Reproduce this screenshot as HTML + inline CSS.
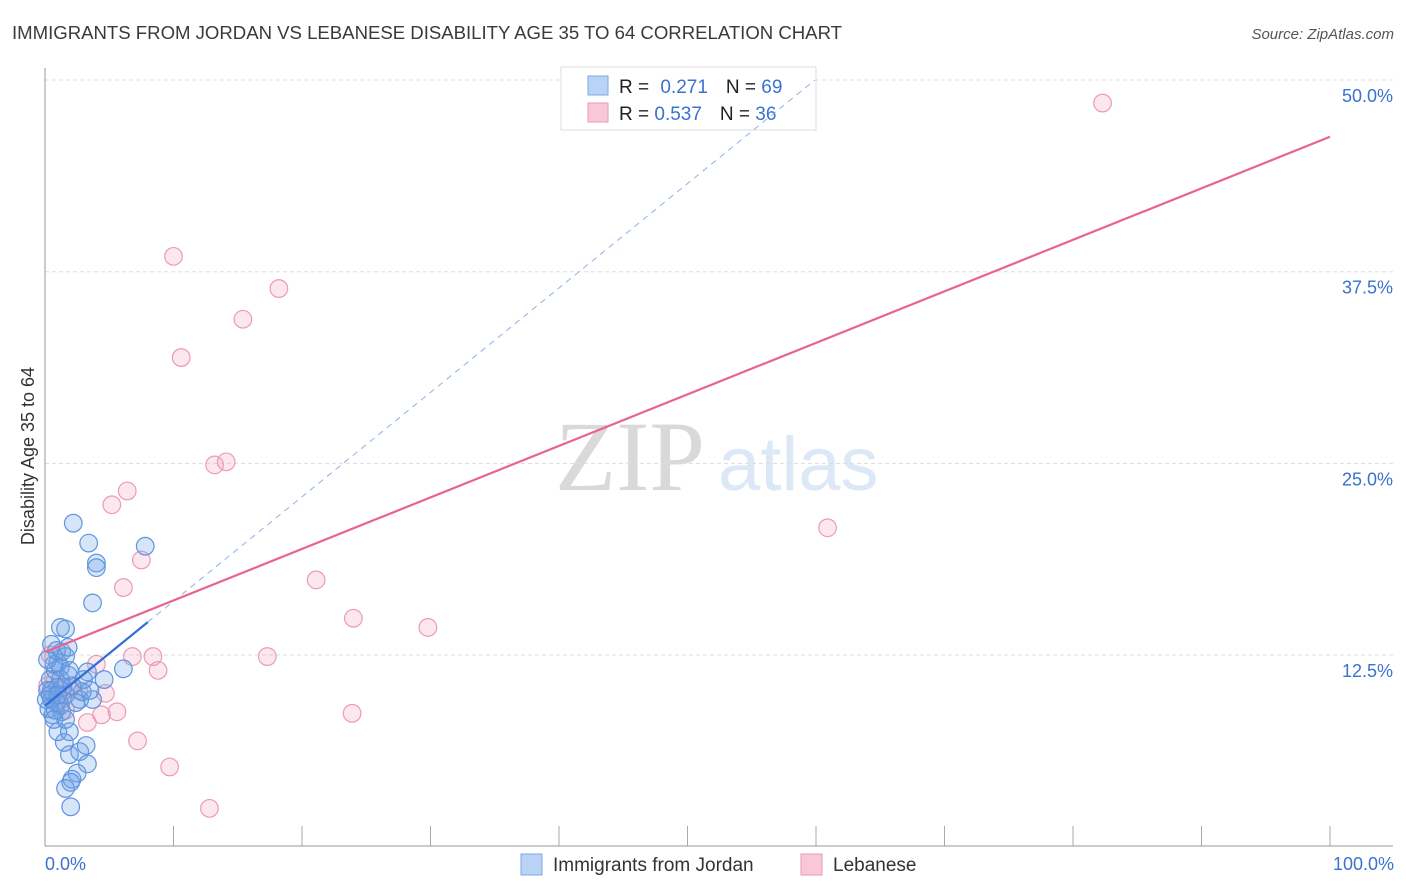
<!DOCTYPE html>
<html><head><meta charset="utf-8"><style>
body{margin:0;background:#fff;font-family:"Liberation Sans",sans-serif;}
svg{display:block}
</style></head><body>
<svg width="1406" height="892" viewBox="0 0 1406 892" id="chart">
<text x="12" y="39" font-size="18.6" fill="#3a3a3a" textLength="830">IMMIGRANTS FROM JORDAN VS LEBANESE DISABILITY AGE 35 TO 64 CORRELATION CHART</text>
<text x="1394" y="39" font-size="15" fill="#555" font-style="italic" text-anchor="end">Source: ZipAtlas.com</text>
<text x="555" y="490" font-size="100" fill="#d9d9d9" font-family="Liberation Serif,serif">ZIP</text>
<text x="718" y="490" font-size="76" fill="#dce8f6">atlas</text>
<g id="grid"></g>
<line x1="45" y1="68" x2="45" y2="846" stroke="#999"/>
<line x1="45" y1="846" x2="1393" y2="846" stroke="#999"/>
<text transform="translate(34,456) rotate(-90)" font-size="18" fill="#333" text-anchor="middle">Disability Age 35 to 64</text>
<text x="45" y="870" font-size="18" fill="#3a72d0">0.0%</text>
<text x="1394" y="870" font-size="18" fill="#3a72d0" text-anchor="end">100.0%</text>
<g>
<rect x="561" y="67" width="255" height="63" fill="#fff" stroke="#ddd"/>
<rect x="588" y="76" width="20" height="19" fill="#b9d3f5" stroke="#7ea7e6"/>
<rect x="588" y="103" width="20" height="19" fill="#f9c8d6" stroke="#ea9ab2"/>
<text x="619" y="93" font-size="19" fill="#222">R = <tspan fill="#3a72d0" dx="6">0.271</tspan><tspan dx="18" fill="#222">N = </tspan><tspan fill="#3a72d0">69</tspan></text>
<text x="619" y="120" font-size="19" fill="#222">R = <tspan fill="#3a72d0">0.537</tspan><tspan dx="18" fill="#222">N = </tspan><tspan fill="#3a72d0">36</tspan></text>
</g>
<g id="marks"></g>
<rect x="521" y="854" width="21" height="21" fill="#b9d3f5" stroke="#7ea7e6"/>
<text x="553" y="871" font-size="19" fill="#333">Immigrants from Jordan</text>
<rect x="801" y="854" width="21" height="21" fill="#f9c8d6" stroke="#ea9ab2"/>
<text x="833" y="871" font-size="19" fill="#333">Lebanese</text>
</svg>
<script>
const yTicks=[12.5,25,37.5,50];
const yTickLabels=["12.5%","25.0%","37.5%","50.0%"];
const xTicks=[10,20,30,40,50,60,70,80,90,100];
const blueX=[2.2,3.4,7.8,4.0,4.0,3.7,1.2,1.6,6.1,4.6,3.7,1.9,2.7,3.2,3.3,2.5,2.1,2.0,1.6,2.0,1.5,1.0,1.9,1.6,0.6,1.2,0.5,0.2,0.4,0.8,1.0,1.3,1.6,0.5,0.7,1.2,1.8,0.4,0.9,1.3,2.7,2.9,3.5,0.2,1.0,1.6,2.1,2.4,3.3,3.0,0.3,0.8,1.4,0.9,1.8,0.5,1.2,0.1,1.0,1.9,0.7];
const blueY=[21.1,19.8,19.6,18.5,18.2,15.9,14.3,14.2,11.6,10.9,9.6,6.0,6.2,6.6,5.4,4.8,4.4,4.2,3.8,2.6,6.8,7.5,7.5,8.3,8.6,9.2,9.6,10.2,10.9,11.5,12.0,12.7,12.4,13.2,11.9,11.7,11.2,9.9,9.4,8.8,9.6,10.1,10.2,12.2,10.4,9.9,10.5,9.4,11.4,10.9,9.0,8.9,10.4,12.8,13.0,10.2,10.9,9.6,9.9,11.5,8.3];
const pinkX=[82.3,10.0,18.2,15.4,10.6,13.2,14.1,6.4,5.2,60.9,7.5,21.1,6.1,24.0,29.8,17.3,6.8,8.4,8.8,4.0,4.7,5.6,4.4,3.3,23.9,7.2,9.7,12.8,0.4,0.8,1.2,1.9,2.6,1.3,0.2,1.6];
const pinkY=[48.5,38.5,36.4,34.4,31.9,24.9,25.1,23.2,22.3,20.8,18.7,17.4,16.9,14.9,14.3,12.4,12.4,12.4,11.5,11.9,10.0,8.8,8.6,8.1,8.7,6.9,5.2,2.5,12.5,10.9,10.2,10.3,10.2,9.6,10.5,8.9];
const blueTrend=[9.2,77.3];
const pinkTrend=[12.7,46.3];
const blueSolidEnd=8.0;

const NS="http://www.w3.org/2000/svg";
const X=v=>45+v*12.85, Y=v=>846.7-v*15.333;
function mk(t,a,p){const e=document.createElementNS(NS,t);for(const k in a)e.setAttribute(k,a[k]);p.appendChild(e);return e;}
const grid=document.getElementById('grid'), marks=document.getElementById('marks');
yTicks.forEach((t,i)=>{
 const l=mk('line',{x1:45,x2:1393,y1:Y(t),y2:Y(t),stroke:'#ddd','stroke-dasharray':'4,3'},grid);
 
 
 const tx=mk('text',{x:1393,y:Y(t)+22,'font-size':18,fill:'#3a72d0','text-anchor':'end'},grid);
 tx.textContent=yTickLabels[i];
 
 
});
xTicks.forEach(t=>{
 const l=mk('line',{x1:X(t),x2:X(t),y1:826,y2:846,stroke:'#aaa'},grid);
 
 
});
pinkX.forEach((x,i)=>{
 const c=mk('circle',{cx:X(x),cy:Y(pinkY[i]),r:8.8,fill:'rgba(244,160,188,0.25)',stroke:'#eb9bb4','stroke-width':1.2},marks);
 
 
});
blueX.forEach((x,i)=>{
 const c=mk('circle',{cx:X(x),cy:Y(blueY[i]),r:8.8,fill:'rgba(110,160,230,0.28)',stroke:'#5f95df','stroke-width':1.2},marks);
 
 
});
const bAt=v=>blueTrend[0]+(blueTrend[1]-blueTrend[0])*v/100;
const dashEnd=(50-blueTrend[0])/(blueTrend[1]-blueTrend[0])*100;
const bd=mk('line',{x1:X(blueSolidEnd),y1:Y(bAt(blueSolidEnd)),x2:X(dashEnd),y2:Y(50),stroke:'#8fb2e6','stroke-width':1,'stroke-dasharray':'6,5'},marks);


const pl=mk('line',{x1:X(0),y1:Y(pinkTrend[0]),x2:X(100),y2:Y(pinkTrend[1]),stroke:'#e8648e','stroke-width':2.2},marks);


const bl=mk('line',{x1:X(0),y1:Y(bAt(0)),x2:X(blueSolidEnd),y2:Y(bAt(blueSolidEnd)),stroke:'#2f6fd6','stroke-width':2.2},marks);


</script>
</body></html>
